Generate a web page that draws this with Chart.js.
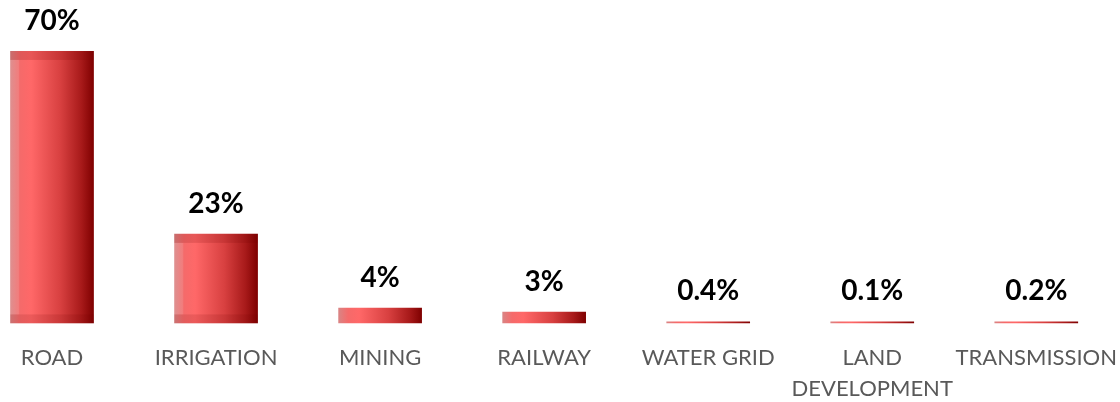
<!DOCTYPE html>
<html>
<head>
<meta charset="utf-8">
<script src="https://cdn.jsdelivr.net/npm/chart.js@4"></script>
<style>
  html, body { margin: 0; padding: 0; background: #fff; overflow: hidden; }
  #wrap { position: relative; width: 1166px; height: 402px; margin-left: -30px; }
</style>
</head>
<body>
<div id="wrap"><canvas id="sectorChart"></canvas></div>
<script>
const categories = ['ROAD', 'IRRIGATION', 'MINING', 'RAILWAY', 'WATER GRID', ['LAND', 'DEVELOPMENT'], 'TRANSMISSION'];
const shares = [70, 23, 4, 3, 0.4, 0.1, 0.2];
const shareLabels = ['70%', '23%', '4%', '3%', '0.4%', '0.1%', '0.2%'];
const BAR_PCT = 0.51;

// Horizontal red gradient for each bar, like a bevelled Excel fill
function barGradient(context) {
    const chart = context.chart;
    const xScale = chart.scales.x;
    if (!chart.chartArea || !xScale) return '#e05050';
    const cx = xScale.getPixelForValue(context.dataIndex);
    const half = (chart.chartArea.width / categories.length) * BAR_PCT / 2;
    if (!isFinite(cx) || !isFinite(half)) return '#e05050';
    const g = chart.ctx.createLinearGradient(cx - half, 0, cx + half, 0);
    g.addColorStop(0, '#d98585');
    g.addColorStop(0.12, '#f56a6a');
    g.addColorStop(0.25, '#ff6868');
    g.addColorStop(0.6, '#d84040');
    g.addColorStop(0.85, '#a81a1a');
    g.addColorStop(1, '#7e0000');
    return g;
}

// Bevel frame and value labels on top of the bars
const bevelAndLabels = {
    id: 'bevelAndLabels',
    afterDatasetsDraw(chart) {
        const ctx = chart.ctx;
        const meta = chart.getDatasetMeta(0);
        meta.data.forEach((bar, i) => {
            const left = bar.x - bar.width / 2;
            const top = bar.y;
            const h = bar.base - bar.y;
            const w = bar.width;
            ctx.save();
            if (h > 24) {
                const b = 9;
                ctx.fillStyle = 'rgba(110, 0, 0, 0.16)';
                ctx.fillRect(left, top, w, b);
                ctx.fillStyle = 'rgba(110, 0, 0, 0.13)';
                ctx.fillRect(left, top + h - b, w, b);
                ctx.fillStyle = 'rgba(255, 230, 230, 0.12)';
                ctx.fillRect(left, top + b, b, h - 2 * b);
            }
            ctx.fillStyle = '#000';
            ctx.font = 'bold 28px Lato, "Open Sans", sans-serif';
            ctx.textAlign = 'center';
            ctx.textBaseline = 'middle';
            ctx.fillText(shareLabels[i], bar.x, top - 30);
            ctx.restore();
        });
    }
};

new Chart(document.getElementById('sectorChart'), {
    type: 'bar',
    data: {
        labels: categories,
        datasets: [{
            data: shares,
            backgroundColor: barGradient,
            borderWidth: 0,
            barPercentage: BAR_PCT,
            categoryPercentage: 1,
            minBarLength: 2
        }]
    },
    options: {
        responsive: true,
        maintainAspectRatio: false,
        animation: false,
        layout: { padding: { top: 12, bottom: -21, left: 0, right: 0 } },
        plugins: {
            legend: { display: false },
            tooltip: { enabled: false }
        },
        scales: {
            x: {
                grid: { display: false, drawTicks: false },
                border: { display: false },
                ticks: {
                    color: '#595959',
                    font: { family: 'Lato, "Open Sans", sans-serif', size: 22, lineHeight: 1.4 },
                    padding: 19,
                    autoSkip: false,
                    maxRotation: 0,
                    minRotation: 0
                }
            },
            y: {
                display: false,
                min: 0,
                max: 80
            }
        }
    },
    plugins: [bevelAndLabels]
});
</script>
</body>
</html>
